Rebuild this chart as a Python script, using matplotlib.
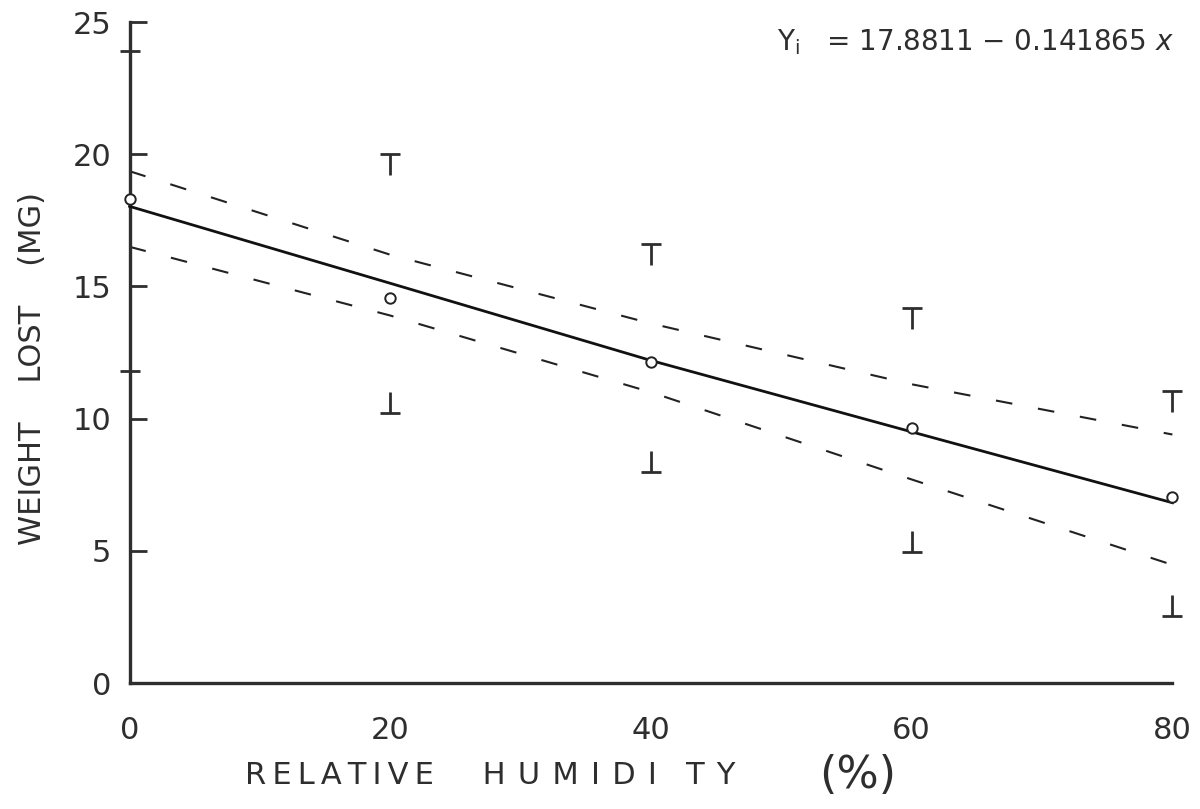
import matplotlib
matplotlib.use('Agg')
from matplotlib import pyplot as plt
from matplotlib.markers import TICKDOWN, TICKUP

# data
humidity = [0, 20, 40, 60, 80]
weight_mean = [18.3, 14.55, 12.15, 9.65, 7.05]
upper_cap = [23.9, 20.0, 16.6, 14.2, 11.05]
lower_cap = [11.8, 10.2, 8.0, 4.95, 2.55]
fit_line = [18.03, 15.12, 12.2, 9.5, 6.82]
band_upper = [19.36, 16.2, 13.6, 11.3, 9.4]
band_lower = [16.5, 13.9, 11.0, 7.7, 4.47]
xticks = [0, 20, 40, 60, 80]
yticks = [0, 5, 10, 15, 20, 25]

ink = '#2e2e2e'
plt.rcParams['font.family'] = ['DejaVu Sans']
ts = '\u2009'  # thin space for the wide lettering

fig = plt.figure(figsize=(12, 8.09), dpi=100)
ax = fig.add_axes([0.108, 0.1557, 0.869, 0.817])

ax.plot(humidity, fit_line, color='#111111', lw=2.0, clip_on=False, zorder=3)
ax.plot(humidity, band_upper, color='#222222', lw=1.5, dashes=(8, 12.5), clip_on=False)
ax.plot(humidity, band_lower, color='#222222', lw=1.5, dashes=(8, 12.5), clip_on=False)

ax.plot(humidity, weight_mean, 'o', ms=7.5, mfc='white', mec='#222222', mew=1.4,
        clip_on=False, zorder=4)

# error limits drawn only as T and inverted T marks
ax.plot(humidity, upper_cap, '_', ms=15, mew=2, color=ink, ls='none', clip_on=False)
ax.plot(humidity, upper_cap, marker=TICKDOWN, ms=15, mew=2, color=ink, ls='none', clip_on=False)
ax.plot(humidity, lower_cap, '_', ms=15, mew=2, color=ink, ls='none', clip_on=False)
ax.plot(humidity, lower_cap, marker=TICKUP, ms=15, mew=2, color=ink, ls='none', clip_on=False)

ax.set_xlim(0, 80)
ax.set_ylim(0, 25)
ax.spines['top'].set_visible(False)
ax.spines['right'].set_visible(False)
for s in ['left', 'bottom']:
    ax.spines[s].set_linewidth(2.4)
    ax.spines[s].set_color(ink)

ax.set_xticks(xticks)
ax.set_xticklabels([str(v) for v in xticks])
ax.set_yticks(yticks)
ax.set_yticklabels([str(v) for v in yticks])
ax.tick_params(axis='y', direction='in', length=12, width=2, color=ink,
               pad=13, labelsize=22, labelcolor=ink)
ax.tick_params(axis='x', direction='in', length=0, pad=24, labelsize=22,
               labelcolor=ink)

xl = ts.join('RELATIVE') + '     ' + (ts * 2).join('HUMIDI') + '   ' + (ts * 2).join('TY')
fig.text(0.204, 0.042, xl, ha='left', va='center', fontsize=22, color=ink)
fig.text(0.715, 0.042, '(%)', ha='center', va='center', fontsize=32, color=ink)

fig.text(0.027, 0.545, 'WEIGHT    LOST    (MG)', rotation=90, ha='center',
         va='center', fontsize=22, color=ink)

fig.text(0.978, 0.948, r'Y$_{\mathrm{i}}$   = 17.8811 $-$ 0.141865 $\mathit{x}$',
         ha='right', va='center', fontsize=20, color=ink)

fig.savefig('out.png', dpi=100, facecolor='white')
